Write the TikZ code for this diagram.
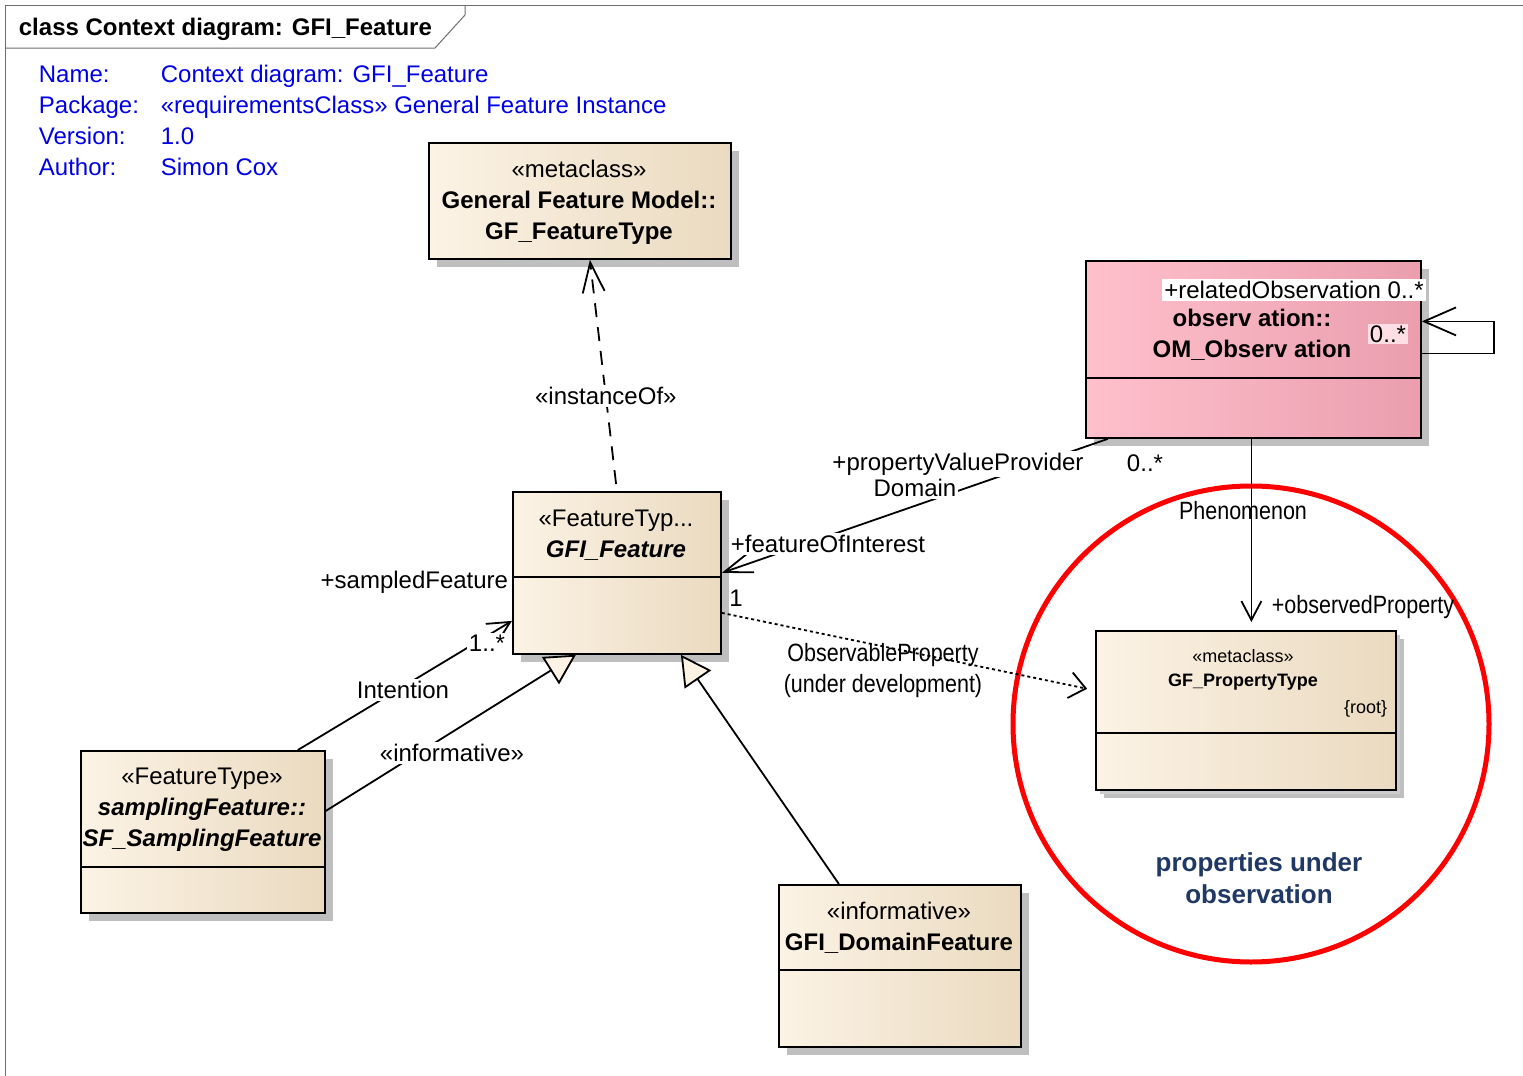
\documentclass[tikz,border=0pt]{standalone}
\usepackage{fontspec}
\setmainfont{Liberation Sans}
\newfontfamily\narrowfont[FakeStretch=0.86]{Liberation Sans}
\usepackage{tikz}
\usetikzlibrary{arrows.meta,shadows}
\definecolor{boxlight}{RGB}{252,243,229}
\definecolor{boxdark}{RGB}{234,218,192}
\definecolor{obslight}{RGB}{255,192,204}
\definecolor{obsdark}{RGB}{234,158,174}
\definecolor{hdrblue}{RGB}{0,0,230}
\definecolor{notenavy}{RGB}{31,56,100}
\definecolor{framegray}{RGB}{110,110,110}

\begin{document}
\begin{tikzpicture}[x=0.5pt,y=-0.5pt,>={Straight Barb[length=11pt,width=11pt]},
  line width=0.9pt,
  every node/.style={font=\fontsize{12}{15.5}\selectfont},
  class node/.style={draw,anchor=north west,inner sep=0pt,left color=boxlight,right color=boxdark,
    drop shadow={shadow xshift=4pt,shadow yshift=-4pt,fill=black!25,opacity=1}},
  obs node/.style={class node,left color=obslight,right color=obsdark},
  text node/.style={align=center,inner sep=0pt},
  hdr node/.style={anchor=base west,inner sep=0pt,text=hdrblue},
  mask node/.style={inner sep=1pt,fill=white},
  narrow node/.style={inner sep=0pt,font=\narrowfont\fontsize{12.5}{15.5}\selectfont},
  gen edge/.style={-{Triangle[fill=boxlight,length=15pt,width=16pt]}}]

  \path[use as bounding box,fill=white] (0,0) rectangle (1523,1076);

  \draw[framegray,line width=0.5pt] (5,1076) -- (5,5) -- (1523,5);
  \draw[framegray,line width=0.5pt] (5,48) -- (435,48) -- (465,15) -- (465,5);
  \node[anchor=base west,inner sep=0pt,font=\bfseries\fontsize{12}{14}\selectfont] (title) at (18,35) {class Context diagram: GFI\_Feature};

  \foreach \key/\val [count=\i] in {Name:/Context diagram: GFI\_Feature,
      Package:/«requirementsClass» General Feature Instance,Version:/1.0,Author:/Simon Cox}{
    \node[hdr node] (key\i) at (38,{52.3+30.7*\i}) {\key};
    \node[hdr node] (val\i) at (160,{52.3+30.7*\i}) {\val};
  }

  \node[draw=red,circle,line width=2.5pt,minimum size=238pt,inner sep=0pt] (focus) at (1251,724) {};
  \node[text node,text=notenavy,font=\bfseries\fontsize{13}{16}\selectfont] (note) at (1259,878) {properties under\\observation};

  \node[class node,minimum width=151pt,minimum height=58pt] (ftype) at (428,142) {};
  \node[text node] (ftypetxt) at (579,202) {«metaclass»\\\textbf{General Feature Model::}\\\textbf{GF\_FeatureType}};

  \node[obs node,minimum width=167.5pt,minimum height=88.5pt] (obs) at (1085,260) {};
  \draw (obs.west |- 0,378) -- (obs.east |- 0,378);
  \node[text node,font=\bfseries\fontsize{12}{15.5}\selectfont] (obstxt) at (1252,335) {observ ation::\\OM\_Observ ation};

  \node[class node,minimum width=104pt,minimum height=81pt] (feat) at (512,491) {};
  \draw (feat.west |- 0,577) -- (feat.east |- 0,577);
  \node[text node] (feattxt) at (616,535) {«FeatureTyp...\\\textbf{\textit{GFI\_Feature}}};

  \node[class node,minimum width=122pt,minimum height=81pt] (samp) at (80,750) {};
  \draw (samp.west |- 0,867) -- (samp.east |- 0,867);
  \node[text node] (samptxt) at (202,810) {«FeatureType»\\\textbf{\textit{samplingFeature::}}\\\textbf{\textit{SF\_SamplingFeature}}};

  \node[class node,minimum width=121pt,minimum height=81pt] (dom) at (778,884) {};
  \draw (dom.west |- 0,970) -- (dom.east |- 0,970);
  \node[text node] (domtxt) at (899,928) {«informative»\\\textbf{GFI\_DomainFeature}};

  \node[class node,minimum width=150pt,minimum height=79.5pt,
    drop shadow={shadow xshift=2pt,shadow yshift=-2pt,fill=black!20,opacity=1}] (ptype) at (1095,630) {};
  \draw (ptype.west |- 0,733) -- (ptype.east |- 0,733);
  \node[text node,font=\fontsize{9}{12}\selectfont] (ptypetxt) at (1243,670) {«metaclass»\\\textbf{GF\_PropertyType}};
  \node[inner sep=0pt,anchor=east,font=\fontsize{9}{11}\selectfont] (ptyperoot) at (1388,709) {\{root\}};

  \draw[dash pattern=on 7pt off 5pt,-{Straight Barb[length=15pt,width=11pt]},shorten <=3.5pt] (feat.north) -- node[mask node,pos=0.41] (inst) {«instanceOf»} ([xshift=5pt]ftype.south);

  \draw[-{Straight Barb[length=14pt,width=10pt]}] ([xshift=11.5pt]obs.south west) -- (feat.east);
  \node[mask node] (pvp) at (958,464) {+propertyValueProvider};
  \node[mask node] (pvpdom) at (915,488) {Domain};
  \node[inner sep=0pt] (pvpmult) at (1145,463) {0..*};
  \node[mask node] (foi) at (828,544) {+featureOfInterest};
  \node[inner sep=0pt] (foimult) at (736,598) {1};

  \draw[-{Straight Barb[length=16pt,width=14pt]}] ([yshift=-2pt]obs.east) -- ++(72,0) |- ([yshift=14pt]obs.east);
  \node[mask node] (relobs) at (1294,290) {+relatedObservation 0..*};
  \node[inner sep=1pt,fill=obslight!50!white] (relmult) at (1388,334) {0..*};

  \draw[-{Straight Barb[length=9.5pt,width=10pt]},shorten >=4pt] ([xshift=-1pt]obs.south) -- ([xshift=-1pt]obs.south |- ptype.north);
  \node[narrow node] (phen) at (1243,511) {Phenomenon};
  \node[narrow node] (obsprop) at (1363,607) {+observedProperty};

  \draw[dash pattern=on 1.5pt off 1.5pt,-{Straight Barb[length=8pt,width=13pt]},shorten >=4pt] ([yshift=-20pt]feat.east) -- ([yshift=10pt]ptype.west);
  \node[narrow node] (obsable) at (883,655) {ObservableProperty};
  \node[narrow node] (undev) at (883,686) {(under development)};

  \draw[->] ([xshift=47.5pt]samp.north) -- ([yshift=-24pt]feat.west);
  \node[mask node] (intent) at (403,690) {Intention};
  \node[inner sep=0pt,anchor=east] (sampled) at (509,582) {+sampledFeature};
  \node[mask node] (sampmult) at (487,643) {1..*};

  \draw[gen edge] ([yshift=10.5pt]samp.east) -- ([xshift=-20.5pt]feat.south);
  \node[mask node] (infor) at (452,753) {«informative»};
  \draw[gen edge] ([xshift=-30.5pt]dom.north) -- ([xshift=32pt]feat.south);
\end{tikzpicture}
\end{document}
